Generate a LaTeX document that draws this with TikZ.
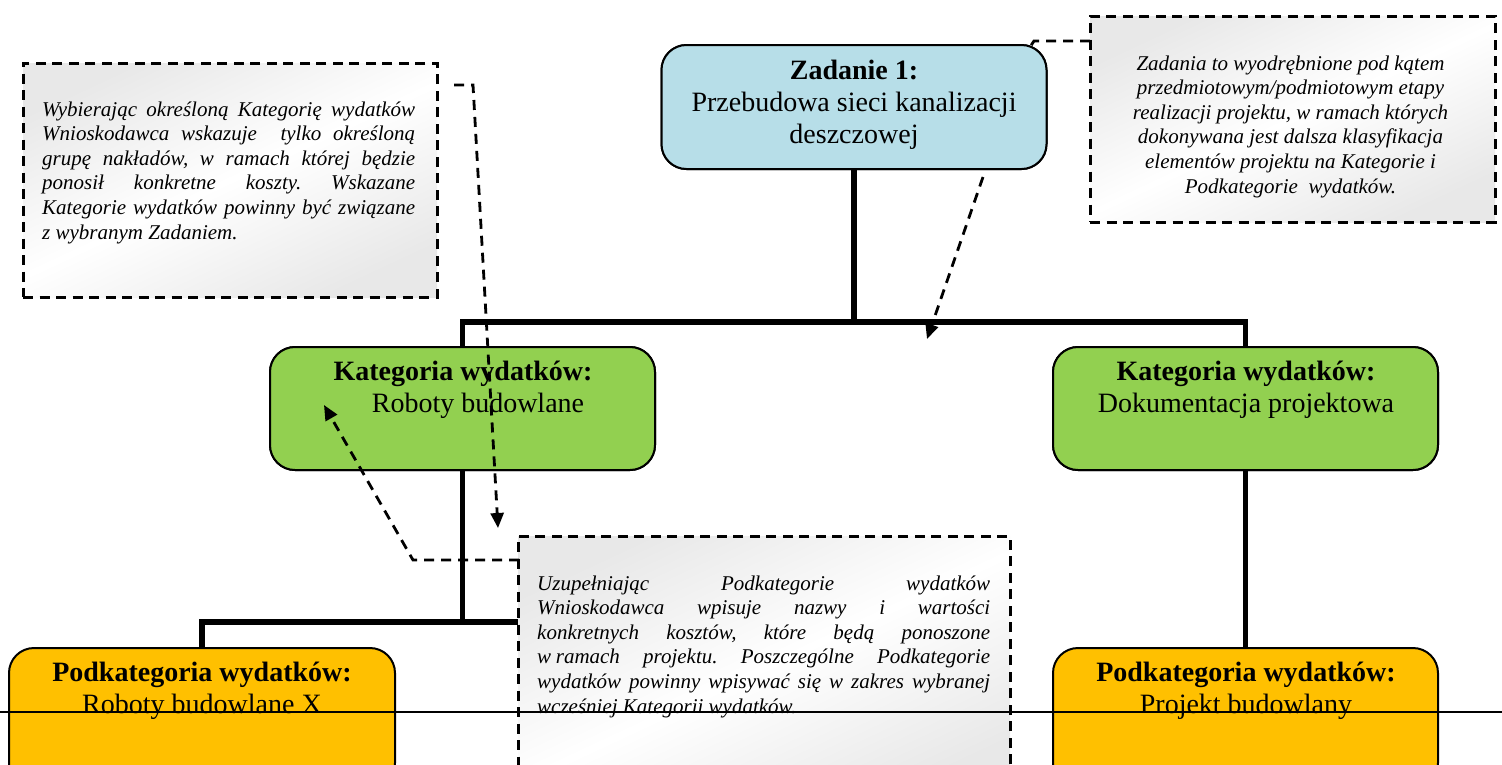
\documentclass[tikz,border=0pt]{standalone}
\usepackage{fontspec}
\setmainfont{Liberation Serif}
\usetikzlibrary{arrows.meta}
\definecolor{zadblue}{HTML}{B7DEE8}
\definecolor{katgreen}{HTML}{92D050}
\definecolor{podorange}{HTML}{FFC000}
\newcommand{\bigtxt}{\fontsize{28}{32}\selectfont}
\newcommand{\smalltxt}{\fontsize{21}{24.6}\selectfont\itshape\frenchspacing}
\tikzset{
  box/.style={draw=black, line width=2pt, rounded corners=25pt, inner sep=0pt, minimum width=385pt},
  conn/.style={line width=5.5pt},
  callout/.style={draw=black, line width=3pt, dash pattern=on 10pt off 6.5pt,
    top color=black!9, bottom color=black!9, middle color=white, shading angle=25, inner sep=0pt},
  pointer/.style={line width=2.8pt, dash pattern=on 10pt off 7pt},
  tip/.style={-{Triangle[length=15pt,width=13pt]}},
  txt/.style={inner sep=0pt, anchor=base},
}
\begin{document}
\begin{tikzpicture}[x=1pt,y=-1pt]
\clip (0,0) rectangle (1502,764);
\fill[white] (0,0) rectangle (1502,764);

% boxes
\node[box, fill=zadblue, minimum height=124pt] (zad) at (854,107) {};
\node[box, fill=katgreen, minimum height=123pt] (katL) at (462.5,408.5) {};
\node[box, fill=katgreen, minimum height=123pt] (katR) at (1245.5,408.5) {};
\node[box, fill=podorange, minimum height=140pt, minimum width=386pt] (podL) at (202,718) {};
\node[box, fill=podorange, minimum height=140pt] (podR) at (1245.5,718) {};

% connectors
\coordinate (j1) at (854,322);
\coordinate (j2) at (462.5,622);
\coordinate (j2r) at (535,622);
\draw[conn] (zad.south) -- (j1);
\draw[conn] (katL.north) |- (katR.north |- j1) -- (katR.north);
\draw[conn] (katL.south) -- (j2);
\draw[conn] (podL.north) |- (j2r);
\draw[conn] (katR.south) -- (podR.north);

% redraw box borders over connector ends
\node[box, fill=zadblue, minimum height=124pt] at (854,107) {};
\node[box, fill=katgreen, minimum height=123pt] at (462.5,408.5) {};
\node[box, fill=katgreen, minimum height=123pt] at (1245.5,408.5) {};

% box texts
\node[txt] (tzad) at (854,79) {\bigtxt\begin{tabular}[t]{@{}c@{}}\textbf{Zadanie 1:}\\Przebudowa sieci kanalizacji\\deszczowej\end{tabular}};
\node[txt] (tkatL) at (463,380) {\bigtxt\begin{tabular}[t]{@{}c@{}}\textbf{Kategoria wydatków:}\\\hspace*{30pt}Roboty budowlane\end{tabular}};
\node[txt] (tkatR) at (1246,380) {\bigtxt\begin{tabular}[t]{@{}c@{}}\textbf{Kategoria wydatków:}\\Dokumentacja projektowa\end{tabular}};
\node[txt] (tpodL) at (202,681) {\bigtxt\begin{tabular}[t]{@{}c@{}}\textbf{Podkategoria wydatków:}\\Roboty budowlane X\end{tabular}};
\node[txt] (tpodR) at (1246,681) {\bigtxt\begin{tabular}[t]{@{}c@{}}\textbf{Podkategoria wydatków:}\\Projekt budowlany\end{tabular}};

% callouts
\node[callout, minimum width=414pt, minimum height=234pt] (cL) at (230,180) {};
\node[callout, minimum width=405pt, minimum height=206pt] (cR) at (1292.5,119) {};
\node[callout, minimum width=492pt, minimum height=264pt] (cB) at (764,668) {};

\node[txt, anchor=base west] (tcL) at (42,116) {\smalltxt\begin{tabular}[t]{@{}l@{}}
\makebox[373pt][s]{Wybierając określoną Kategorię wydatków}\\
\makebox[373pt][s]{Wnioskodawca wskazuje\ \ tylko określoną}\\
\makebox[373pt][s]{grupę nakładów, w ramach której będzie}\\
\makebox[373pt][s]{ponosił konkretne koszty. Wskazane}\\
\makebox[373pt][s]{Kategorie wydatków powinny być związane}\\
z wybranym Zadaniem.\end{tabular}};

\node[txt] (tcR) at (1290.5,70) {\smalltxt\begin{tabular}[t]{@{}c@{}}
Zadania to wyodrębnione pod kątem\\
przedmiotowym/podmiotowym etapy\\
realizacji projektu, w ramach których\\
dokonywana jest dalsza klasyfikacja\\
elementów projektu na Kategorie i\\
Podkategorie\ \ wydatków.\end{tabular}};

\node[txt, anchor=base west] (tcB) at (537,590) {\smalltxt\begin{tabular}[t]{@{}l@{}}
\makebox[453pt][s]{Uzupełniając Podkategorie wydatków}\\
\makebox[453pt][s]{Wnioskodawca wpisuje nazwy i wartości}\\
\makebox[453pt][s]{konkretnych kosztów, które będą ponoszone}\\
\makebox[453pt][s]{w\hspace{0.22em}ramach projektu. Poszczególne Podkategorie}\\
\makebox[453pt][s]{wydatków powinny wpisywać się w zakres wybranej}\\
wcześniej Kategorii wydatków.\end{tabular}};

% pointers
\coordinate (pR1) at (1090,41);
\coordinate (pR2) at (1034,41);
\coordinate (pR3) at (1030,47);
\draw[pointer] (pR1) -- (pR2) -- (pR3);

\coordinate (pZ1) at (983,177);
\coordinate (pZ2) at (927,339);
\draw[pointer, tip] (pZ1) -- (pZ2);

\coordinate (pL1) at (454,85);
\coordinate (pL2) at (473,85);
\coordinate (pL3) at (498,528);
\draw[pointer, tip] (pL1) -- (pL2) -- (pL3);

\coordinate (pB1) at (519,560);
\coordinate (pB2) at (413,560);
\coordinate (pB3) at (324,405);
\draw[pointer, tip] (pB1) -- (pB2) -- (pB3);

% page rule
\coordinate (hl) at (0,712);
\coordinate (hr) at (1502,712);
\draw[line width=2pt] (hl) -- (hr);
\end{tikzpicture}
\end{document}
